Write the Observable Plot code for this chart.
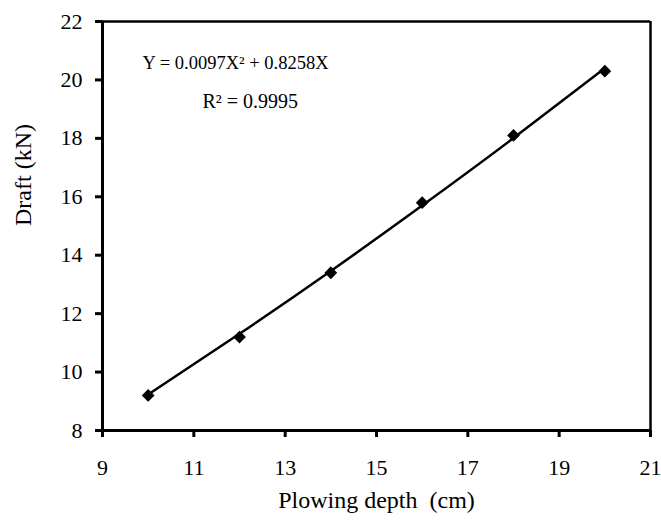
<!DOCTYPE html>
<html><head><meta charset="utf-8">
<script src="https://cdn.jsdelivr.net/npm/d3@7"></script>
<script src="https://cdn.jsdelivr.net/npm/@observablehq/plot@0.6"></script>
<style>body{margin:0;background:#fff} svg{display:block}</style>
</head><body><div id="chart"></div>
<script>
const depth = [10, 12, 14, 16, 18, 20];
const draft = [9.2, 11.2, 13.4, 15.8, 18.1, 20.3];
const trendDraft = [9.23, 11.31, 13.46, 15.70, 18.01, 20.40];
const xTicks = [9, 11, 13, 15, 17, 19, 21];
const yTicks = [8, 10, 12, 14, 16, 18, 20, 22];
const equation = "Y = 0.0097X² + 0.8258X";
const rSquared = "R² = 0.9995";
const xLabel = "Plowing depth  (cm)";
const yLabel = "Draft (kN)";

const points = depth.map((d, i) => ({depth: d, draft: draft[i]}));
const trend = depth.map((d, i) => ({depth: d, draft: trendDraft[i]}));
const font = "'Liberation Serif', 'Times New Roman', serif";

const chart = Plot.plot({
  width: 661, height: 528,
  marginLeft: 102, marginRight: 11, marginTop: 21, marginBottom: 98,
  style: {fontFamily: font, background: "#fff", color: "#000"},
  x: {domain: [9, 21]},
  y: {domain: [8, 22]},
  marks: [
    Plot.axisX({ticks: xTicks, tickSize: 7, tickPadding: 22, fontSize: 22, strokeWidth: 3, label: null}),
    Plot.axisY({ticks: yTicks, tickSize: 7, tickPadding: 13, fontSize: 22, strokeWidth: 3, label: null}),
    Plot.ruleY([22], {strokeWidth: 2.5}),
    Plot.ruleX([21], {strokeWidth: 2.5}),
    Plot.ruleX([9], {strokeWidth: 3}),
    Plot.ruleY([8], {strokeWidth: 3}),
    Plot.line(trend, {x: "depth", y: "draft", curve: "natural", strokeWidth: 2.5, stroke: "#000"}),
    Plot.dot(points, {x: "depth", y: "draft", symbol: "diamond2", r: 4.8, fill: "#000", stroke: "#000", strokeWidth: 1.5}),
    Plot.text([equation], {text: d => d, frameAnchor: "top-left", dx: 40, dy: 34, textAnchor: "start", fontSize: 18.5}),
    Plot.text([rSquared], {text: d => d, frameAnchor: "top-left", dx: 100, dy: 72, textAnchor: "start", fontSize: 20}),
    Plot.text([xLabel], {text: d => d, frameAnchor: "bottom", dy: 77, fontSize: 24}),
    Plot.text([yLabel], {text: d => d, frameAnchor: "left", dx: -79, rotate: -90, fontSize: 24})
  ]
});
document.getElementById("chart").appendChild(chart);
</script>
</body></html>
